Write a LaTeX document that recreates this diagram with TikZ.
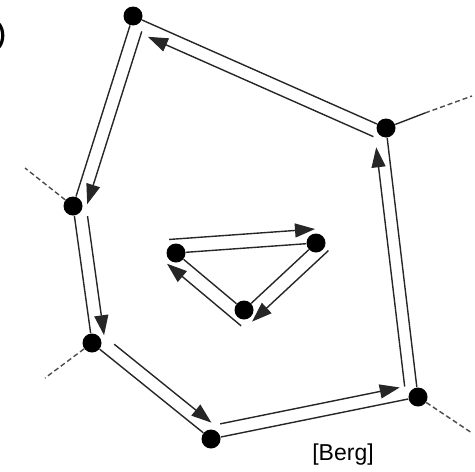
\documentclass[tikz,border=0pt]{standalone}
\usepackage{fontspec}
\setmainfont{Liberation Sans}
\usetikzlibrary{calc,arrows.meta}
\tikzset{
  dot/.style={circle, fill=black, inner sep=0pt, minimum size=9.5pt},
  edge/.style={draw=black!85, line width=0.7pt},
  half/.style={draw=black!85, line width=0.7pt, -{Triangle[length=10pt,width=7pt]}},
  ext/.style={draw=black!70, line width=0.7pt, dash pattern=on 2.5pt off 1.5pt}
}
\begin{document}
\begin{tikzpicture}[x=0.5pt, y=-0.5pt]
	\useasboundingbox (0,0) rectangle (475,471);
	\node[dot] (A) at (133,16) {};
	\node[dot] (B) at (386,128) {};
	\node[dot] (C) at (418,397) {};
	\node[dot] (D) at (211,439) {};
	\node[dot] (E) at (92,343) {};
	\node[dot] (F) at (73,206) {};
	\node[dot] (P) at (176,253) {};
	\node[dot] (Q) at (316,243) {};
	\node[dot] (R) at (244,310) {};
	\coordinate (b1) at (425,113);
	\coordinate (b2) at (472,96);
	\coordinate (c1) at (472,433);
	\coordinate (e1) at (45,378);
	\coordinate (f1) at (25,168);
	\draw[edge] (A) -- (B) -- (C) -- (D) -- (E) -- (F) -- (A);
	\draw[edge] (P) -- (Q) -- (R) -- (P);
	\draw[edge] (B) -- (b1);
	\draw[ext] (b1) -- (b2);
	\draw[ext] (C) -- (c1);
	\draw[ext] (E) -- (e1);
	\draw[ext] (F) -- (f1);
	\draw[half] ($(A.center)!6pt!(F.center)!6.5pt!90:(F.center)$) -- ($(F.center)!3pt!(A.center)!6.5pt!-90:(A.center)$);
	\draw[half] ($(F.center)!6pt!(E.center)!6.5pt!90:(E.center)$) -- ($(E.center)!3pt!(F.center)!6.5pt!-90:(F.center)$);
	\draw[half] ($(E.center)!9pt!(D.center)!6.5pt!90:(D.center)$) -- ($(D.center)!5pt!(E.center)!6.5pt!-90:(E.center)$);
	\draw[half] ($(D.center)!6pt!(C.center)!6.5pt!90:(C.center)$) -- ($(C.center)!8pt!(D.center)!6.5pt!-90:(D.center)$);
	\draw[half] ($(C.center)!6pt!(B.center)!6pt!90:(B.center)$) -- ($(B.center)!9pt!(C.center)!6pt!-90:(C.center)$);
	\draw[half] ($(B.center)!4pt!(A.center)!6.5pt!90:(A.center)$) -- ($(A.center)!11pt!(B.center)!6.5pt!-90:(B.center)$);
	\draw[half] ($(P.center)!-3pt!(Q.center)!7pt!90:(Q.center)$) -- ($(Q.center)!0pt!(P.center)!7pt!-90:(P.center)$);
	\draw[half] ($(Q.center)!-2pt!(R.center)!7pt!90:(R.center)$) -- ($(R.center)!-1pt!(Q.center)!7pt!-90:(Q.center)$);
	\draw[half] ($(R.center)!-4pt!(P.center)!7pt!90:(P.center)$) -- ($(P.center)!0pt!(R.center)!7pt!-90:(R.center)$);
	\node[inner sep=0pt] (berg) at (343,455) {\fontsize{11.5}{13}\selectfont [Berg]};
	\draw[line width=1.6pt] (-1,24) .. controls (4,30) and (4,41) .. (-1,47);
\end{tikzpicture}
\end{document}
